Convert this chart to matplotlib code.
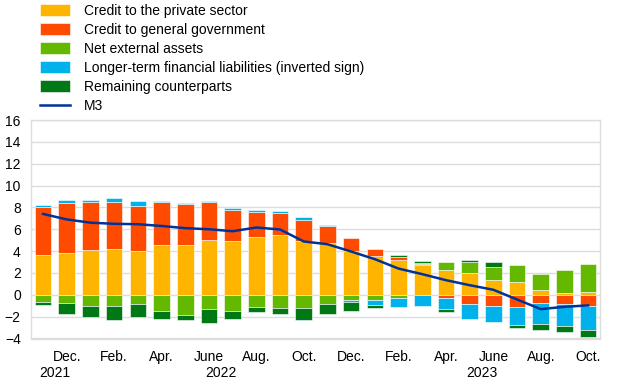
import numpy as np
import matplotlib
matplotlib.use('Agg')
import matplotlib.pyplot as plt

plt.rcParams['font.family'] = ['Liberation Sans', 'DejaVu Sans']

# monthly data Nov 2021 - Oct 2023 (annual growth contributions, pp)
months = ['Nov', 'Dec', 'Jan', 'Feb', 'Mar', 'Apr', 'May', 'Jun', 'Jul', 'Aug', 'Sep', 'Oct',
          'Nov', 'Dec', 'Jan', 'Feb', 'Mar', 'Apr', 'May', 'Jun', 'Jul', 'Aug', 'Sep', 'Oct']

private = [3.66, 3.81, 4.12, 4.18, 4.02, 4.54, 4.60, 5.00, 4.97, 5.27, 5.43, 4.91,
           4.72, 4.02, 3.56, 3.17, 2.74, 2.25, 2.00, 1.40, 1.19, 0.46, 0.15, 0.30]
government = [4.42, 4.57, 4.42, 4.36, 4.15, 3.97, 3.69, 3.48, 2.83, 2.32, 2.10, 1.95,
              1.59, 1.21, 0.64, 0.30, 0.05, -0.30, -0.85, -1.00, -1.16, -0.79, -0.85, -1.00]
external = [-0.64, -0.73, -0.98, -0.98, -0.88, -1.49, -1.86, -1.28, -1.46, -1.16, -1.22, -1.19,
            -0.85, -0.46, -0.46, -0.30, 0.08, 0.73, 1.00, 1.10, 1.52, 1.43, 2.10, 2.50]
longterm = [0.18, 0.34, 0.15, 0.30, 0.46, 0.12, 0.12, 0.15, 0.16, 0.18, 0.18, 0.30,
            0.12, -0.21, -0.51, -0.80, -1.04, -1.04, -1.40, -1.47, -1.61, -1.89, -2.05, -2.23]
remaining = [-0.27, -1.04, -1.06, -1.34, -1.19, -0.77, -0.49, -1.34, -0.73, -0.46, -0.55, -1.10,
             -0.92, -0.79, -0.22, 0.18, 0.20, -0.27, 0.16, 0.48, -0.30, -0.55, -0.55, -0.61]
m3 = [7.40, 6.90, 6.60, 6.50, 6.46, 6.30, 6.10, 6.00, 5.82, 6.16, 5.98, 4.88,
      4.63, 3.96, 3.26, 2.40, 1.89, 1.34, 0.88, 0.46, -0.43, -1.31, -1.10, -0.97]

tick_labels = ['Dec.', 'Feb.', 'Apr.', 'June', 'Aug.', 'Oct.',
               'Dec.', 'Feb.', 'Apr.', 'June', 'Aug.', 'Oct.']
years = ['2021', '2022', '2023']

series = [
    ('Credit to the private sector', private, '#FFB400'),
    ('Credit to general government', government, '#FF4B00'),
    ('Net external assets', external, '#65B800'),
    ('Longer-term financial liabilities (inverted sign)', longterm, '#00B1EA'),
    ('Remaining counterparts', remaining, '#007816'),
]

fig = plt.figure(figsize=(6.2, 3.87), dpi=100)
ax = fig.add_axes([30.5 / 620, 1 - 338.5 / 387, 569.5 / 620, 218.5 / 387])

x = np.arange(len(months))
pos_bottom = np.zeros(len(x))
neg_bottom = np.zeros(len(x))
handles = []
for label, vals, col in series:
    v = np.array(vals)
    bottom = np.where(v >= 0, pos_bottom, neg_bottom)
    b = ax.bar(x, v, 0.7, bottom=bottom, color=col, edgecolor='white', linewidth=0.4,
               label=label, zorder=2)
    handles.append(b)
    pos_bottom = pos_bottom + np.where(v >= 0, v, 0)
    neg_bottom = neg_bottom + np.where(v < 0, v, 0)

line, = ax.plot(x, m3, color='#003299', linewidth=1.8, label='M3', zorder=3)
handles.append(line)

ax.set_xlim(-0.53, 23.5)
ax.set_ylim(-4, 16)
ax.set_yticks(np.arange(-4, 17, 2))
ax.grid(axis='y', color='#dcdcdc', linewidth=1, zorder=0)
for s in ax.spines.values():
    s.set_color('#dcdcdc')
    s.set_linewidth(1)
ax.tick_params(axis='both', length=0, labelsize=10, colors='black')
ax.tick_params(axis='y', pad=7)

ax.set_xticks(np.arange(1, 24, 2), tick_labels)
ax.tick_params(axis='x', pad=8.5)

# year labels centred under each year's months
year_centres = [0.5, 7.5, 18.5]
for yc, yr in zip(year_centres, years):
    ax.text(yc, -0.128, yr, transform=ax.get_xaxis_transform(), ha='center', va='top',
            fontsize=10)

fig.legend(handles=handles, loc='upper left', bbox_to_anchor=(40 / 620, 1 - 4 / 387),
           frameon=False, fontsize=10, borderpad=0, borderaxespad=0,
           handlelength=2.15, handleheight=1.0, handletextpad=1.0, labelspacing=0.36)

fig.savefig('out.png', dpi=100)
